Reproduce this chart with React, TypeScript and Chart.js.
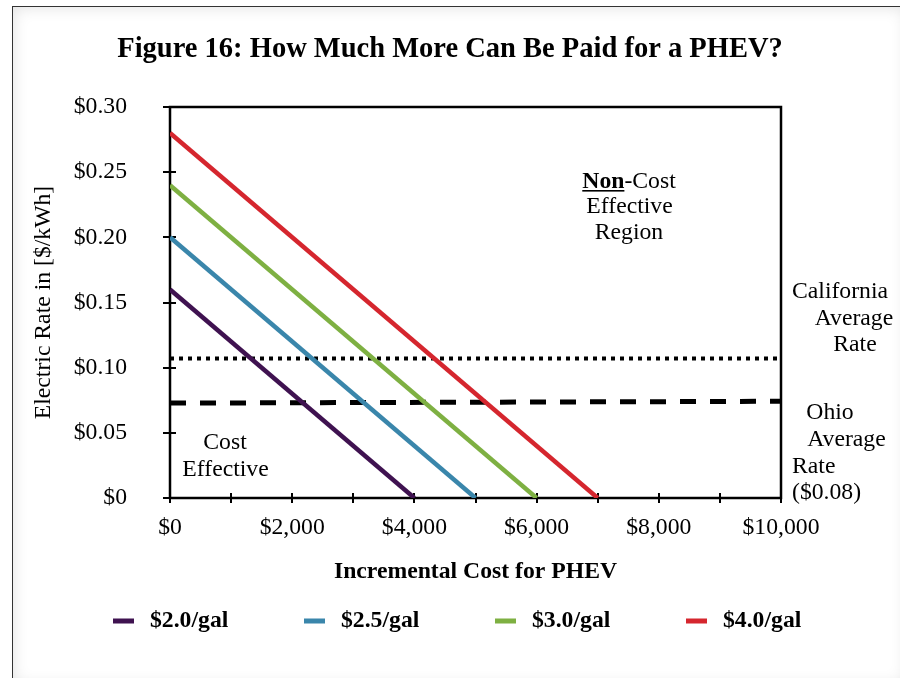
import React, { useEffect, useRef } from 'react';
import { Chart, registerables } from 'chart.js';

Chart.register(...registerables);

// ---- data ----
const fuelPrices = ['$2.0/gal', '$2.5/gal', '$3.0/gal', '$4.0/gal'];
const maxElectricRates = [0.16, 0.2, 0.24, 0.28]; // $/kWh at $0 incremental cost
const breakEvenCosts = [4000, 5000, 6000, 7000]; // incremental cost at $0/kWh
const seriesColors = ['#3f1250', '#3a86ab', '#7eb042', '#d5262e'];
const refCostRange = [0, 10000];
const californiaRate = [0.107, 0.107];
const ohioRate = [0.0728, 0.0742];
const yMin = 0;
const yMax = 0.3;
const yStep = 0.05;
const xMin = 0;
const xMax = 10000;
const xTickStep = 1000;
const xLabelValues = [0, 2000, 4000, 6000, 8000, 10000];

const titleText = 'Figure 16: How Much More Can Be Paid for a PHEV?';
const xTitle = 'Incremental Cost for PHEV';
const yTitle = 'Electric Rate in [$/kWh]';

const SERIF = "'Liberation Serif', 'Times New Roman', serif";
const FS = 23.7;

const overlayPlugin = {
  id: 'overlay',
  beforeDatasetsDraw(chart: any) {
    const { ctx, chartArea: a, scales } = chart;
    const x = scales.x;
    const y = scales.y;
    ctx.save();
    ctx.strokeStyle = '#000';
    ctx.lineWidth = 2.5;
    ctx.strokeRect(a.left, a.top, a.right - a.left, a.bottom - a.top);
    ctx.lineWidth = 2;
    ctx.beginPath();
    y.ticks.forEach((t: any) => {
      const py = Math.round(y.getPixelForValue(t.value));
      ctx.moveTo(a.left - 7, py);
      ctx.lineTo(a.left + 6, py);
    });
    x.ticks.forEach((t: any) => {
      const px = Math.round(x.getPixelForValue(t.value));
      ctx.moveTo(px, a.bottom - 5);
      ctx.lineTo(px, a.bottom + 5);
    });
    ctx.stroke();
    ctx.restore();
  },
  afterDraw(chart: any) {
    const { ctx } = chart;
    ctx.save();
    ctx.fillStyle = '#000';

    // title
    ctx.font = `bold 28.5px ${SERIF}`;
    ctx.textAlign = 'center';
    ctx.textBaseline = 'alphabetic';
    ctx.fillText(titleText, 450, 57);

    // legend
    const items = chart.data.datasets.filter((d: any) => fuelPrices.includes(d.label));
    ctx.font = `bold ${FS}px ${SERIF}`;
    ctx.textAlign = 'left';
    ctx.textBaseline = 'middle';
    items.forEach((d: any, i: number) => {
      const lx = 113 + i * 191;
      const ly = 621;
      ctx.fillStyle = d.borderColor;
      ctx.fillRect(lx, ly - 2.5, 21, 5);
      ctx.fillStyle = '#000';
      ctx.fillText(d.label, lx + 37, ly);
    });

    // annotations
    ctx.font = `${FS}px ${SERIF}`;
    ctx.textAlign = 'center';
    const center = (t: string, cx: number, cy: number) => ctx.fillText(t, cx, cy);
    const left = (t: string, lx: number, cy: number) => {
      ctx.textAlign = 'left';
      ctx.fillText(t, lx, cy);
      ctx.textAlign = 'center';
    };

    // "Non-Cost" with bold underlined "Non"
    ctx.font = `bold ${FS}px ${SERIF}`;
    const wNon = ctx.measureText('Non').width;
    ctx.font = `${FS}px ${SERIF}`;
    const wCost = ctx.measureText('-Cost').width;
    const startX = 629 - (wNon + wCost) / 2;
    ctx.textAlign = 'left';
    ctx.textBaseline = 'alphabetic';
    const nonBase = 188;
    ctx.font = `bold ${FS}px ${SERIF}`;
    ctx.fillText('Non', startX, nonBase);
    ctx.fillRect(startX, nonBase + 2, wNon, 1.6);
    ctx.font = `${FS}px ${SERIF}`;
    ctx.fillText('-Cost', startX + wNon, nonBase);
    ctx.textAlign = 'center';
    ctx.textBaseline = 'middle';
    center('Effective', 629.5, 207);
    center('Region', 629, 233);

    center('Cost', 225, 443);
    center('Effective', 225.5, 470);

    center('California', 840, 292);
    center('Average', 854, 319);
    center('Rate', 855, 345);

    center('Ohio', 830, 413);
    center('Average', 846.5, 440);
    left('Rate', 792, 467);
    left('($0.08)', 792, 493);

    ctx.restore();
  },
};

export default function App() {
  const canvasRef = useRef<HTMLCanvasElement | null>(null);

  useEffect(() => {
    const canvas = canvasRef.current;
    if (!canvas) return;

    const seriesSets = fuelPrices.map((label, i) => ({
      label,
      data: [
        { x: xMin, y: maxElectricRates[i] },
        { x: breakEvenCosts[i], y: yMin },
      ],
      borderColor: seriesColors[i],
      backgroundColor: seriesColors[i],
      borderWidth: 4.5,
      pointRadius: 0,
      fill: false,
      tension: 0,
    }));

    const chart = new Chart(canvas, {
      type: 'line',
      data: {
        datasets: [
          ...seriesSets,
          {
            label: 'California Average Rate',
            data: refCostRange.map((c, i) => ({ x: c, y: californiaRate[i] })),
            borderColor: '#000',
            borderWidth: 4,
            borderDash: [4, 5],
            borderCapStyle: 'butt',
            pointRadius: 0,
            fill: false,
          },
          {
            label: 'Ohio Average Rate',
            data: refCostRange.map((c, i) => ({ x: c, y: ohioRate[i] })),
            borderColor: '#000',
            borderWidth: 5,
            borderDash: [16, 14],
            borderCapStyle: 'butt',
            pointRadius: 0,
            fill: false,
          },
        ],
      },
      options: {
        responsive: false,
        animation: false,
        events: [],
        layout: { padding: { left: 0, right: 119, top: 107, bottom: 0 } },
        plugins: {
          legend: { display: false },
          title: { display: false },
          tooltip: { enabled: false },
        },
        scales: {
          x: {
            type: 'linear',
            min: xMin,
            max: xMax,
            grid: { display: false, drawTicks: false, tickLength: 0 },
            border: { display: false },
            ticks: {
              stepSize: xTickStep,
              autoSkip: false,
              maxRotation: 0,
              padding: 16,
              color: '#000',
              font: { family: SERIF, size: FS },
              callback: (v: any) =>
                xLabelValues.includes(Number(v)) ? '$' + Number(v).toLocaleString('en-US') : '',
            },
            title: {
              display: true,
              text: xTitle,
              color: '#000',
              font: { family: SERIF, size: FS, weight: 'bold' },
              padding: { top: 0, bottom: 92 },
            },
            afterFit: (s: any) => {
              s.height = 180;
            },
          },
          y: {
            type: 'linear',
            min: yMin,
            max: yMax,
            grid: { display: false, drawTicks: false, tickLength: 0 },
            border: { display: false },
            ticks: {
              stepSize: yStep,
              padding: 43,
              color: '#000',
              font: { family: SERIF, size: FS },
              callback: (v: any) => (Number(v) === 0 ? '$0' : '$' + Number(v).toFixed(2)),
            },
            title: {
              display: true,
              text: yTitle,
              color: '#000',
              font: { family: SERIF, size: FS },
              padding: { top: 30, bottom: 0 },
            },
            afterFit: (s: any) => {
              s.width = 170;
            },
          },
        },
      },
      plugins: [overlayPlugin],
    });

    return () => chart.destroy();
  }, []);

  return (
    <div
      style={{
        position: 'absolute',
        left: 0,
        top: 0,
        width: 900,
        height: 678,
        overflow: 'hidden',
        background: '#fff',
      }}
    >
      <div
        style={{
          position: 'absolute',
          left: 12,
          top: 6,
          width: 893,
          height: 678,
          border: '1.5px solid #333',
          boxShadow: 'inset 0 0 16px rgba(0,0,0,0.13)',
        }}
      />
      <canvas
        ref={canvasRef}
        width={900}
        height={678}
        style={{ position: 'absolute', left: 0, top: 0, width: 900, height: 678 }}
      />
    </div>
  );
}
